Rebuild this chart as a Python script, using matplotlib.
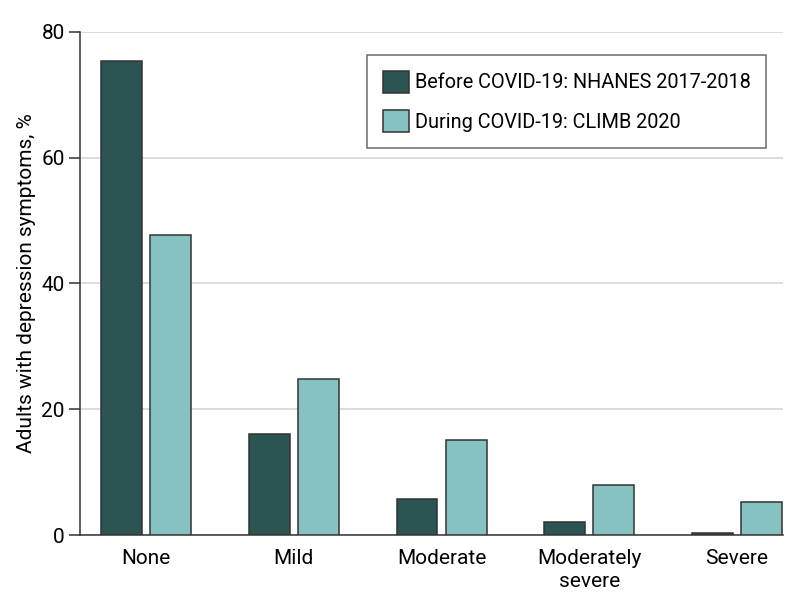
import matplotlib.pyplot as plt
import numpy as np

plt.rcParams['font.family'] = ['Roboto', 'DejaVu Sans']

categories = ["None", "Mild", "Moderate", "Moderately\nsevere", "Severe"]
before = [75.4, 16.1, 5.8, 2.0, 0.3]
during = [47.7, 24.8, 15.1, 7.9, 5.2]
series_names = ["Before COVID-19: NHANES 2017-2018", "During COVID-19: CLIMB 2020"]
yticks = [0, 20, 40, 60, 80]

dark = "#2b5452"
light = "#85c2c1"
edge = "#333333"

fig = plt.figure(figsize=(7.94, 6.09), dpi=100)
ax = fig.add_axes([0.1008, 0.1215, 0.8852, 0.826])

x = np.arange(len(categories))
w = 0.277
ax.bar(x - 0.166, before, w, color=dark, edgecolor=edge, linewidth=1.1,
       label=series_names[0], zorder=3)
ax.bar(x + 0.166, during, w, color=light, edgecolor=edge, linewidth=1.1,
       label=series_names[1], zorder=3)

ax.set_xlim(-0.446, 4.31)
ax.set_ylim(0, 80)
ax.set_yticks(yticks)
ax.set_xticks(x)
ax.set_xticklabels(categories, fontsize=15, linespacing=1.25)
ax.tick_params(axis="y", labelsize=15, length=8, width=1.1, color=edge, pad=3)
ax.tick_params(axis="x", length=0, pad=10)
ax.yaxis.grid(True, color="#d9d9d9", linewidth=1.3, zorder=0)
ax.set_axisbelow(True)

for s in ["top", "right"]:
    ax.spines[s].set_visible(False)
ax.spines["left"].set_color(edge)
ax.spines["bottom"].set_color(edge)
ax.spines["left"].set_linewidth(1.1)
ax.spines["bottom"].set_linewidth(1.1)

ax.set_ylabel("Adults with depression symptoms, %", fontsize=15, labelpad=4)

leg = ax.legend(loc="upper left", bbox_to_anchor=(367 / 794, 1 - 55 / 609),
                bbox_transform=fig.transFigure, fontsize=14.3, frameon=True,
                fancybox=False, edgecolor="#444444", handlelength=1.3,
                handleheight=1.3, handletextpad=0.3, borderpad=0.8,
                labelspacing=0.9, borderaxespad=0)
leg.get_frame().set_linewidth(1.1)

plt.savefig("out.png", dpi=100)
